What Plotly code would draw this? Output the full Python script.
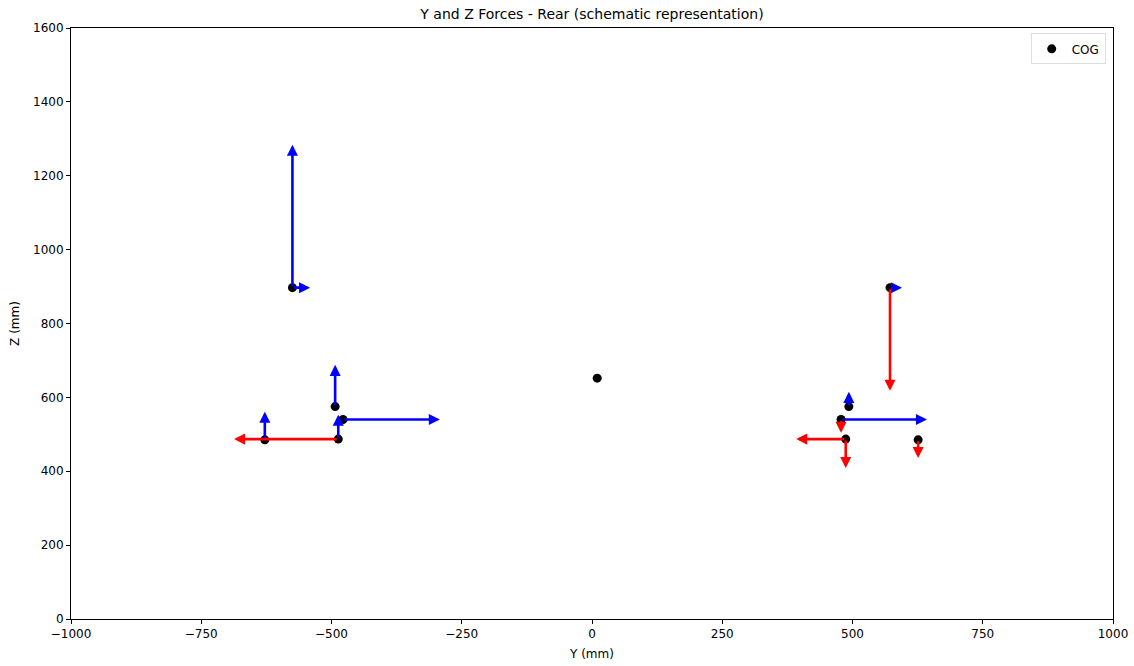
import plotly.graph_objects as go

# Suspension hardpoints (Y, Z in mm), rear axle
point_y = [-575, -493, -478, -487, -628, 572, 493, 478, 487, 626]
point_z = [897, 575, 540, 487, 485, 897, 575, 540, 487, 485]

# Schematic force components drawn at each hardpoint (arrow length in mm)
force_y = [34, 0, 186, -200, 0, 23, 0, 165, -95, 0]
force_z = [387, 113, 0, 66, 76, -279, 40, -36, -78, -49]

# Centre of gravity
cog_y = [10]
cog_z = [652]

POS_COLOR = "#0000ff"
NEG_COLOR = "#ff0000"

fig = go.Figure()

fig.add_trace(go.Scatter(
    x=point_y, y=point_z, mode="markers",
    marker=dict(color="black", size=9),
    showlegend=False, hoverinfo="skip",
))

fig.add_trace(go.Scatter(
    x=cog_y, y=cog_z, mode="markers", name="COG",
    marker=dict(color="black", size=9),
))

annotations = []
for py, pz, fy, fz in zip(point_y, point_z, force_y, force_z):
    for dy, dz in ((fy, 0), (0, fz)):
        if dy == 0 and dz == 0:
            continue
        comp = dy if dy != 0 else dz
        annotations.append(dict(
            x=py + dy, y=pz + dz, ax=py, ay=pz,
            xref="x", yref="y", axref="x", ayref="y",
            text="", showarrow=True,
            arrowhead=2, arrowsize=0.85, arrowwidth=2.6,
            arrowcolor=POS_COLOR if comp > 0 else NEG_COLOR,
            standoff=0, startstandoff=0,
        ))

font = dict(family="DejaVu Sans", size=12, color="black")

fig.update_layout(
    width=1134, height=666,
    margin=dict(l=71, r=21, t=28, b=47, autoexpand=False),
    paper_bgcolor="white", plot_bgcolor="white",
    font=font,
    title=dict(
        text="Y and Z Forces - Rear (schematic representation)",
        x=0.5, xref="paper", xanchor="center",
        y=1 - 14 / 666, yref="container", yanchor="middle",
        font=dict(family="DejaVu Sans", size=14, color="black"),
    ),
    annotations=annotations,
    legend=dict(
        x=0.993, y=0.991, xanchor="right", yanchor="top",
        bgcolor="white", bordercolor="#dddddd", borderwidth=1,
        font=dict(family="DejaVu Sans", size=12, color="black"),
        itemwidth=30,
    ),
    showlegend=True,
)

fig.update_xaxes(
    range=[-1000, 1000], tickvals=[-1000, -750, -500, -250, 0, 250, 500, 750, 1000],
    showgrid=False, zeroline=False, automargin=False,
    showline=True, linecolor="black", linewidth=1, mirror=True,
    ticks="outside", ticklen=4, tickcolor="black",
    title=dict(text="Y (mm)", standoff=9, font=font),
)
fig.update_yaxes(
    range=[0, 1600], tickvals=[0, 200, 400, 600, 800, 1000, 1200, 1400, 1600],
    showgrid=False, zeroline=False, automargin=False,
    showline=True, linecolor="black", linewidth=1, mirror=True,
    ticks="outside", ticklen=4, tickcolor="black",
    title=dict(text="Z (mm)", standoff=10, font=font),
)

fig.write_html("out.html")
